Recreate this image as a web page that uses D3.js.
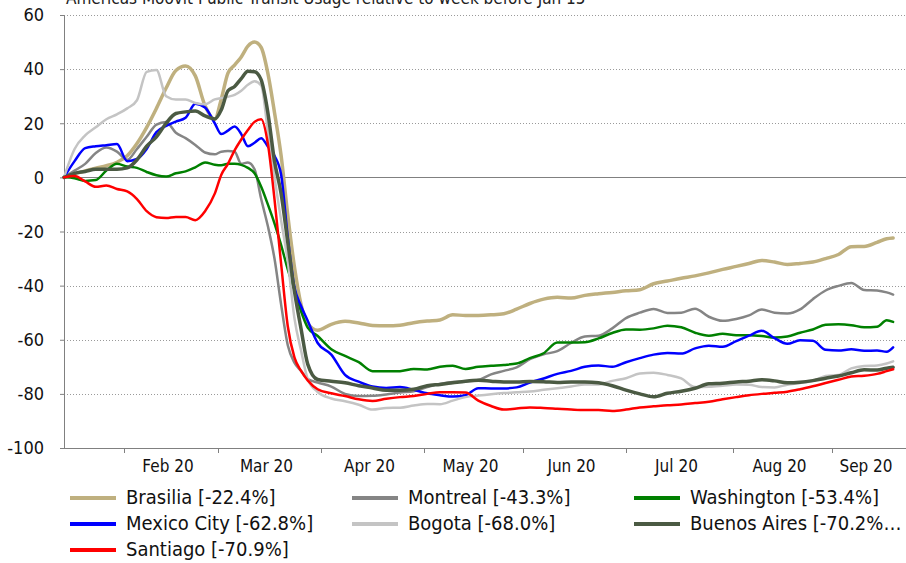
<!DOCTYPE html>
<html><head><meta charset="utf-8">
<script src="https://cdn.jsdelivr.net/npm/d3@7"></script>
<style>
body{margin:0;background:#fff;}
svg{display:block;font-family:"DejaVu Sans Condensed","DejaVu Sans",sans-serif;}
</style>
</head><body>
<svg id="chart" width="906" height="563"></svg>
<script>
const title = "Americas Moovit Public Transit Usage relative to week before Jan 15";
const dates = ["2020-01-15","2020-01-18","2020-01-21","2020-01-24","2020-01-27","2020-01-30","2020-02-02","2020-02-05","2020-02-08","2020-02-11","2020-02-14","2020-02-17","2020-02-20","2020-02-23","2020-02-26","2020-02-29","2020-03-02","2020-03-04","2020-03-06","2020-03-08","2020-03-10","2020-03-12","2020-03-14","2020-03-16","2020-03-18","2020-03-20","2020-03-22","2020-03-24","2020-03-26","2020-03-28","2020-03-31","2020-04-04","2020-04-08","2020-04-12","2020-04-16","2020-04-20","2020-04-24","2020-04-28","2020-05-02","2020-05-06","2020-05-10","2020-05-14","2020-05-18","2020-05-22","2020-05-26","2020-05-30","2020-06-03","2020-06-07","2020-06-11","2020-06-15","2020-06-19","2020-06-23","2020-06-27","2020-07-01","2020-07-05","2020-07-09","2020-07-13","2020-07-17","2020-07-21","2020-07-25","2020-07-29","2020-08-02","2020-08-06","2020-08-10","2020-08-14","2020-08-18","2020-08-22","2020-08-26","2020-08-30","2020-09-03","2020-09-07","2020-09-11","2020-09-15","2020-09-18","2020-09-20"];

const brasilia = [0,1.3,2.4,3.4,4.3,5.6,8,12.5,18.5,25.5,33,39.5,41.2,37.5,26.5,21.5,29,38.5,41.5,44.5,48.5,50,48,38.5,24,8,-14,-33,-47,-54,-56.5,-54.3,-53.2,-53.8,-54.7,-54.8,-54.6,-53.7,-53.1,-52.7,-50.8,-51,-51,-50.8,-50.4,-48.7,-46.6,-45,-44.3,-44.6,-43.6,-43,-42.5,-41.9,-41.5,-39.3,-38.3,-37.3,-36.4,-35.3,-34,-32.9,-31.8,-30.7,-31.3,-32.2,-31.8,-31.3,-30,-28.5,-25.6,-25.5,-24,-22.7,-22.4];
const montreal = [0,2.5,5,9,11,9.5,6.5,10.5,15,19.5,20.5,16.5,14.5,12,9.2,8.5,9.5,9.7,9.5,5,5.5,3,-8,-18,-30,-47,-62,-68.5,-71.5,-74.5,-75.8,-77.3,-80,-80.8,-80.7,-80.2,-79.5,-79,-77.5,-76.3,-75.6,-75.4,-74.9,-72.8,-71.5,-70.2,-67.2,-65.4,-64.2,-61.2,-58.8,-58.5,-55.8,-52,-50,-48.6,-50.1,-50,-48.5,-51.5,-53,-52.3,-51,-48.8,-50,-50.3,-48.8,-45,-41.8,-40.1,-39,-41.6,-41.8,-42.5,-43.3];
const washington = [0,-0.3,-1.3,-1,2.5,5,4,3.5,2,0.8,0.3,1.5,2.2,3.7,5.5,4.7,4.5,5,5,4.6,3.5,1.5,-3.5,-10,-17,-25,-34,-41.5,-49.5,-55.5,-58.6,-63.5,-66,-68.3,-71.6,-71.6,-71.6,-70.8,-71,-70,-69.6,-70.8,-70,-69.6,-69.3,-68.8,-66.8,-65,-61,-61,-60.9,-59.5,-57.5,-56.2,-56.3,-55.8,-54.8,-55.4,-57.4,-58.5,-57.8,-58.3,-58.3,-58.6,-59.2,-58.8,-57.4,-56.2,-54.5,-54.3,-54.6,-55.4,-55.2,-52.8,-53.4];
const mexicoCity = [0,6,10.8,11.5,11.9,12.3,6,6.8,10.5,16.7,19,20.6,22,27.2,25.8,20,16,17.3,18.8,16,11.5,12.8,14.5,11.4,8,1,-22,-40.5,-47.5,-53,-61.2,-65.5,-73,-75.5,-77.3,-77.8,-77.5,-78.5,-79.8,-80.5,-81,-80.5,-77.9,-78,-78,-77.6,-75.8,-74.3,-72.6,-71.5,-70,-69.5,-70,-68.3,-66.8,-65.5,-64.9,-65.1,-63.2,-62.2,-62.6,-60.5,-58.5,-56.7,-59.4,-61.5,-60.2,-60.4,-63.7,-64,-63.5,-64.1,-64,-64.4,-62.8];
const bogota = [0,10.5,15.5,18.5,21.5,23.3,25.5,28.5,39,39.7,30,28.8,28.8,27.5,27,28.8,29.3,29.8,30.5,32,34.2,35.5,34,17,0,-16,-31,-52,-64,-74.5,-79.3,-81.7,-82.7,-84,-85.8,-85.2,-85.1,-84.3,-83.7,-83.8,-82.5,-81.2,-80.6,-80.1,-79.7,-79.4,-79.1,-78.5,-77.9,-77.3,-76.5,-76.5,-75.2,-74.2,-72.5,-72.2,-73,-74.3,-77.5,-77.4,-77,-76.5,-76.6,-77.5,-77.6,-76.6,-76,-75.2,-73.4,-73,-70.6,-69.7,-69.5,-68.8,-68];
const buenosAires = [0,1.5,2.2,3,3,3,3.5,6.5,11.5,15,20,23.6,24.2,24.5,22.7,21.6,25,32,33.6,36.5,39.2,39,36,24,6,-6,-24,-42,-56,-69,-74.7,-75.3,-75.9,-77,-77.8,-78.7,-78.7,-78.3,-77,-76.5,-75.9,-75.3,-75,-75.3,-75.6,-75.6,-75.4,-75.5,-75.8,-75.6,-75.6,-75.9,-77,-78.6,-80,-81.1,-79.8,-79,-77.9,-76.3,-76.1,-75.6,-75.3,-74.8,-75.2,-75.9,-75.7,-75.1,-74.2,-73.4,-72.2,-71.1,-71.2,-70.5,-70.2];
const santiago = [0,0.5,-1.5,-3.5,-3,-4.3,-5.2,-8,-12.5,-14.7,-15,-14.6,-14.6,-15.8,-12.5,-6,1,5,10,14,17.5,20.5,21.5,12.5,-8,-32,-55,-66.5,-71.5,-75,-78.3,-79.8,-80.8,-82,-82.6,-81.8,-81.2,-80.8,-80,-79.4,-79.4,-79.5,-82.5,-84.5,-85.8,-85.4,-85,-85.2,-85.5,-85.8,-86,-86,-86.3,-85.8,-85,-84.6,-84.2,-83.9,-83.4,-82.9,-82,-81.2,-80.5,-80,-79.6,-79.2,-78.3,-77.2,-76,-74.8,-73.6,-73.3,-72.6,-71.6,-70.9];

const seriesLabels = ["Brasilia [-22.4%]","Montreal [-43.3%]","Washington [-53.4%]","Mexico City [-62.8%]","Bogota [-68.0%]","Buenos Aires [-70.2%\u2026","Santiago [-70.9%]"];
const seriesValues = [brasilia, montreal, washington, mexicoCity, bogota, buenosAires, santiago];
const monthTicks = ["2020-02-01","2020-03-01","2020-04-01","2020-05-01","2020-06-01","2020-07-01","2020-08-01","2020-09-01"];
const monthLabels = ["Feb 20","Mar 20","Apr 20","May 20","Jun 20","Jul 20","Aug 20","Sep 20"];
const yTicks = [60,40,20,0,-20,-40,-60,-80,-100];

// styles
const colors = ["#bfb07f","#858585","#008000","#0000ff","#c4c4c4","#4b5a43","#ff0000"];
const widths = [3.5,2.5,2.5,2.5,2.5,3.5,2.5];

(function(){
const parse = d3.timeParse("%Y-%m-%d");
const svg = d3.select("#chart");
const pLeft = 64, pRight = 906, pTop = 15, pBottom = 448;

const xDomain = ["2020-01-15","2020-02-01","2020-03-01","2020-04-01","2020-05-01","2020-06-01","2020-07-01","2020-08-01","2020-09-01","2020-09-24"].map(parse);
const x = d3.scaleTime().domain(xDomain).range([64,124,218,321,424,523,626,733,832,906]);
const y = d3.scaleLinear().domain([-100,60]).range([pBottom, pTop]);

svg.append("text").attr("x", 66).attr("y", 4).attr("font-size", 17).attr("fill", "#222").text(title);

svg.append("g").selectAll("line").data(yTicks.filter(v => v !== 0 && v !== -100)).join("line")
  .attr("x1", pLeft).attr("x2", pRight).attr("y1", d => Math.round(y(d)) + 0.5).attr("y2", d => Math.round(y(d)) + 0.5)
  .attr("stroke", "#9a9a9a").attr("stroke-width", 1).attr("stroke-dasharray", "1,2");

svg.append("line").attr("x1", pLeft).attr("x2", pRight).attr("y1", Math.round(y(0)) + 0.5).attr("y2", Math.round(y(0)) + 0.5)
  .attr("stroke", "#808080").attr("stroke-width", 1);

const yAxis = svg.append("g").attr("transform", `translate(${pLeft},0)`)
  .call(d3.axisLeft(y).tickValues(yTicks).tickSize(4).tickPadding(16).tickFormat(d => String(d)));
yAxis.select(".domain").attr("stroke", "#808080");
yAxis.selectAll(".tick line").attr("stroke", "#808080");
yAxis.selectAll(".tick text").attr("font-size", 18).attr("fill", "#111").attr("font-family", "'DejaVu Sans Condensed','DejaVu Sans',sans-serif");

const xAxis = svg.append("g").attr("transform", `translate(0,${pBottom})`)
  .call(d3.axisBottom(x).tickValues(monthTicks.map(parse)).tickSize(5).tickSizeOuter(0).tickFormat(""));
xAxis.select(".domain").attr("stroke", "#808080").attr("d", `M${pLeft},0.5H${pRight}`);
xAxis.selectAll(".tick line").attr("stroke", "#808080");

const bounds = monthTicks.map(parse).map(d => x(d)).concat([pRight]);
svg.append("g").selectAll("text").data(monthLabels).join("text")
  .attr("x", (d, i) => (bounds[i] + bounds[i + 1]) / 2 - 3)
  .attr("y", 472).attr("text-anchor", "middle").attr("font-size", 17).attr("fill", "#111")
  .text(d => d);

const line = d3.line().x((d, i) => x(parse(dates[i]))).y(d => y(d)).curve(d3.curveMonotoneX);
svg.append("g").selectAll("path").data(seriesValues).join("path")
  .attr("d", d => line(d)).attr("fill", "none")
  .attr("stroke", (d, i) => colors[i]).attr("stroke-width", (d, i) => widths[i])
  .attr("stroke-linejoin", "round").attr("stroke-linecap", "round");

const colX = [70, 352, 634], rowY = [497, 523, 549];
const lg = svg.append("g").selectAll("g").data(seriesLabels).join("g")
  .attr("transform", (d, i) => `translate(${colX[i % 3]},${rowY[Math.floor(i / 3)]})`);
lg.append("line").attr("x1", 0).attr("x2", 46).attr("y1", 1).attr("y2", 1)
  .attr("stroke", (d, i) => colors[i]).attr("stroke-width", 4);
lg.append("text").attr("x", 56).attr("y", 0).attr("dy", "0.36em").attr("font-size", 20).attr("fill", "#111").text(d => d);
})();
</script>
</body></html>
